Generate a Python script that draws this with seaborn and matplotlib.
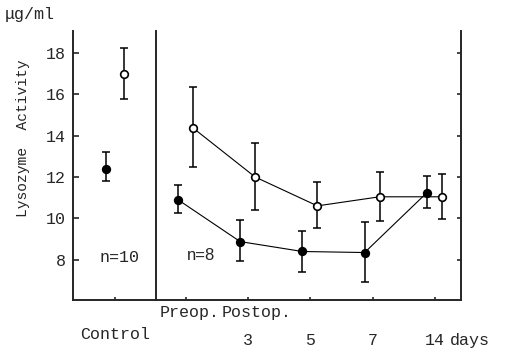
import matplotlib
matplotlib.use("Agg")
import matplotlib.pyplot as plt
import matplotlib.transforms as mtransforms
import seaborn as sns
import numpy as np

# control group (n=10)
ctrl_filled = 12.4
ctrl_filled_lo, ctrl_filled_hi = 11.8, 13.2
ctrl_open = 17.0
ctrl_open_lo, ctrl_open_hi = 15.8, 18.25

# surgery group (n=8): preop, postop day 3, 5, 7, 14
day_labels = ["3", "5", "7", "14"]
filled_mean = [10.9, 8.87, 8.39, 8.34, 11.24]
filled_hi = [11.6, 9.93, 9.4, 9.8, 12.06]
filled_lo = [10.27, 7.95, 7.42, 6.93, 10.5]
open_mean = [14.38, 12.0, 10.6, 11.04, 11.04]
open_hi = [16.36, 13.65, 11.77, 12.25, 12.15]
open_lo = [12.5, 10.4, 9.55, 9.88, 9.98]
yticks = [8, 10, 12, 14, 16, 18]

sns.set_style("ticks")
plt.rcParams["font.family"] = ["Liberation Mono", "DejaVu Sans Mono"]
plt.rcParams["axes.linewidth"] = 1.4

fig = plt.figure(figsize=(5.05, 3.52), dpi=100)
ax1 = fig.add_axes([0.1446, 0.1477, 0.1644, 0.7642])
ax2 = fig.add_axes([0.3089, 0.1477, 0.6040, 0.7642])
ax2.patch.set_visible(False)
ylim = (6.04, 19.07)


def draw(ax, xs, mean, lo, hi, face):
    mean = np.asarray(mean)
    yerr = [mean - np.asarray(lo), np.asarray(hi) - mean]
    ax.errorbar(xs, mean, yerr=yerr, fmt="none", ecolor="black",
                elinewidth=1.1, capsize=3, capthick=1.1, zorder=2)
    sns.lineplot(x=xs, y=mean, ax=ax, color="black", lw=0.8, marker="o",
                 markersize=5.5, markerfacecolor=face, markeredgecolor="black",
                 markeredgewidth=1.2, zorder=3, sort=False)


# left panel: control
draw(ax1, np.array([-0.14]), [ctrl_filled], [ctrl_filled_lo], [ctrl_filled_hi], "black")
draw(ax1, np.array([0.14]), [ctrl_open], [ctrl_open_lo], [ctrl_open_hi], "white")
ax1.set_xlim(-0.67, 0.66)
ax1.set_ylim(*ylim)
ax1.set_yticks(yticks)
ax1.set_xticks([0])
ax1.set_xticklabels([""])
ax1.tick_params(axis="y", direction="in", length=4, width=1.2, labelsize=12, pad=5)
ax1.tick_params(axis="x", direction="in", length=2, width=1.2)
ax1.spines["top"].set_visible(False)
ax1.text(0.07, 8.1, "n=10", ha="center", va="center", fontsize=12)
ax1.text(0, -0.13, "Control", ha="center", va="center", fontsize=12,
         transform=mtransforms.blended_transform_factory(ax1.transData, ax1.transAxes))

# right panel: surgery
pos = np.arange(len(filled_mean))
draw(ax2, pos - 0.13, filled_mean, filled_lo, filled_hi, "black")
draw(ax2, pos + 0.11, open_mean, open_lo, open_hi, "white")
ax2.set_xlim(-0.482, 4.418)
ax2.set_ylim(*ylim)
ax2.set_yticks(yticks)
ax2.set_xticks(pos)
ax2.set_xticklabels([""] * len(pos))
ax2.yaxis.tick_right()
ax2.tick_params(axis="y", direction="in", length=3, width=1.2, labelright=False)
ax2.tick_params(axis="x", direction="in", length=2, width=1.2)
ax2.spines["top"].set_visible(False)
ax2.spines["left"].set_visible(False)
ax2.text(0.24, 8.2, "n=8", ha="center", va="center", fontsize=12,
         family=["Liberation Sans", "DejaVu Sans"])

tr = mtransforms.blended_transform_factory(ax2.transData, ax2.transAxes)
ax2.text(0.06, -0.048, "Preop.", ha="center", va="center", fontsize=12, transform=tr)
ax2.text(1.14, -0.048, "Postop.", ha="center", va="center", fontsize=12, transform=tr)
for p, lab in zip(pos[1:], day_labels):
    ax2.text(p, -0.149, lab, ha="center", va="center", fontsize=12, transform=tr)
ax2.annotate("days", xy=(pos[-1], -0.149), xycoords=tr, xytext=(11, 0),
             textcoords="offset points", ha="left", va="center", fontsize=12)

fig.text(0.01, 1 - 14 / 352, "μg/ml", ha="left", va="center", fontsize=12)
fig.text(23 / 505, 1 - 138 / 352, "Lysozyme  Activity", rotation=90,
         ha="center", va="center", fontsize=10.5)

fig.savefig("out.png", dpi=100)
